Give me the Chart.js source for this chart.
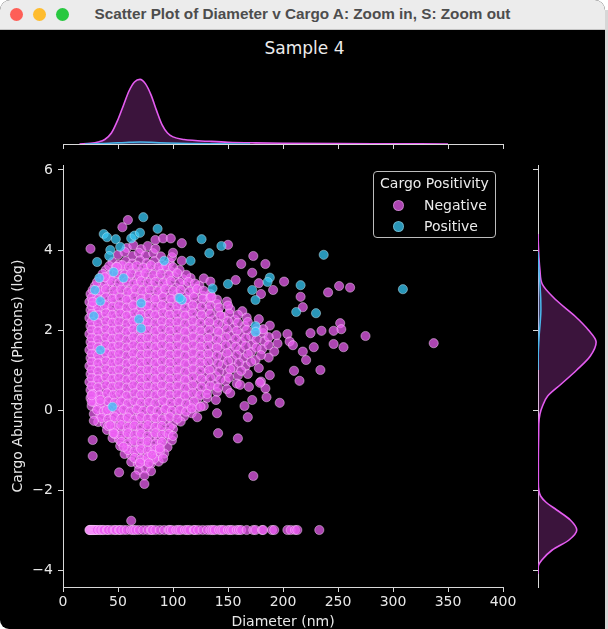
<!DOCTYPE html>
<html>
<head>
<meta charset="utf-8">
<title>Scatter Plot of Diameter v Cargo</title>
<script src="https://cdn.jsdelivr.net/npm/chart.js@4.4.1/dist/chart.umd.min.js"></script>
<style>
html, body { margin: 0; padding: 0; background: #fff; }
body { width: 608px; height: 629px; position: relative; overflow: hidden; font-family: "DejaVu Sans", sans-serif; }
#win { position: absolute; left: 0; top: 0; width: 605px; height: 629px; background: #000; border-radius: 10px 10px 0 9px; overflow: hidden; }
#bar { position: absolute; left: 0; top: 0; width: 605px; height: 29px; background: #ececec; border-bottom: 1px solid #c4c4c4; }
.dot { position: absolute; top: 7.5px; width: 13px; height: 13px; border-radius: 50%; }
#wtitle { position: absolute; left: 0; top: 5px; width: 605px; text-align: center; font: bold 15.3px "Liberation Sans", Arial, sans-serif; color: #4d4d4d; }
#edge { position: absolute; left: 605px; top: 10px; width: 3px; height: 619px; background: #d7d7d7; }
canvas { position: absolute; }
#title { position: absolute; left: 0; top: 38px; width: 609px; text-align: center; font-size: 17px; color: #ececec; }
#legend { position: absolute; left: 373px; top: 171px; width: 121px; height: 65px; border: 1px solid #bdbdbd; border-radius: 4px; background: rgba(0,0,0,0.8); color: #ececec; font-size: 14px; }
#legend .lt { position: absolute; left: 0; top: 3px; width: 100%; text-align: center; line-height: 17px; }
#legend .li { position: absolute; left: 50px; line-height: 20px; }
#legend .mk { position: absolute; left: 19px; width: 9px; height: 9px; border-radius: 50%; border: 1px solid rgba(255,255,255,0.3); }
</style>
</head>
<body>
<div id="win">
  <div id="bar">
    <span class="dot" style="left:9.5px;background:#fe5f57"></span>
    <span class="dot" style="left:32.5px;background:#febc2e"></span>
    <span class="dot" style="left:55.5px;background:#28c840"></span>
    <div id="wtitle">Scatter Plot of Diameter v Cargo A: Zoom in, S: Zoom out</div>
  </div>
  <div id="title">Sample 4</div>
  <canvas id="topChart" width="530" height="120" style="left:0;top:30px;width:530px;height:120px"></canvas>
  <canvas id="mainChart" width="530" height="479" style="left:0;top:150px;width:530px;height:479px"></canvas>
  <canvas id="rightChart" width="92" height="479" style="left:530px;top:150px;width:92px;height:479px"></canvas>
  <div id="legend">
    <div class="lt">Cargo Positivity</div>
    <span class="mk" style="top:28px;background:#ad44b2"></span>
    <div class="li" style="top:23px">Negative</div>
    <span class="mk" style="top:49px;background:#2996b8"></span>
    <div class="li" style="top:44px">Positive</div>
  </div>
</div>
<div id="edge"></div>
<script>
// tick labels
var xTicks = [0, 50, 100, 150, 200, 250, 300, 350, 400];
var yTicks = [-4, -2, 0, 2, 4, 6];

// scatter: [diameter (nm), cargo abundance (log)]
var negativePoints = [
  [58,4.05],[64,4.12],[71,4.02],[77,4.1],
  [50,3.88],[56,3.95],[63,3.85],[69,3.93],[75,3.86],[82,3.92],[89,3.84],
  [45,3.7],[51,3.64],[57,3.72],[63,3.66],[70,3.74],[76,3.67],[83,3.72],[90,3.64],[97,3.69],
  [39,3.5],[45,3.45],[51,3.53],[57,3.47],[64,3.52],[70,3.45],[77,3.54],[84,3.48],[91,3.52],[98,3.46],[106,3.5],
  [34,3.3],[41,3.26],[47,3.33],[54,3.27],[60,3.32],[67,3.26],[73,3.34],[80,3.28],[87,3.31],[94,3.25],[101,3.33],[109,3.27],[116,3.3],
  [29,3.1],[35,3.05],[42,3.12],[48,3.06],[55,3.11],[61,3.04],[68,3.13],[74,3.07],[81,3.1],[88,3.05],[95,3.12],[102,3.06],[110,3.1],[118,3.04],[124,3.11],
  [25,2.9],[31,2.85],[37,2.92],[44,2.86],[50,2.91],[57,2.85],[63,2.93],[70,2.87],[76,2.9],[83,2.84],[90,2.92],[97,2.86],[104,2.9],[111,2.85],[119,2.92],[127,2.86],[134,2.9],
  [24,2.7],[29,2.64],[35,2.72],[41,2.66],[47,2.71],[54,2.65],[60,2.73],[66,2.67],[73,2.7],[79,2.64],[86,2.72],[93,2.66],[100,2.71],[107,2.65],[114,2.72],[122,2.66],[131,2.7],[140,2.65],[149,2.71],
  [25,2.5],[31,2.45],[37,2.52],[43,2.46],[50,2.51],[56,2.44],[62,2.53],[69,2.47],[75,2.5],[82,2.45],[88,2.52],[95,2.46],[102,2.5],[109,2.44],[116,2.52],[124,2.46],[132,2.5],[141,2.45],[152,2.52],[163,2.47],
  [24,2.3],[30,2.26],[36,2.33],[42,2.27],[48,2.31],[55,2.25],[61,2.33],[67,2.27],[74,2.3],[80,2.24],[87,2.32],[94,2.26],[100,2.3],[107,2.25],[114,2.33],[121,2.27],[129,2.3],[137,2.25],[146,2.32],[156,2.26],[167,2.31],[178,2.27],
  [25,2.1],[31,2.05],[37,2.12],[43,2.06],[49,2.11],[56,2.04],[62,2.13],[68,2.07],[75,2.1],[81,2.05],[88,2.12],[95,2.06],[101,2.1],[108,2.04],[115,2.12],[122,2.06],[130,2.1],[138,2.05],[146,2.12],[155,2.06],[165,2.1],[176,2.05],[188,2.11],
  [24,1.9],[30,1.86],[36,1.93],[42,1.87],[48,1.91],[54,1.85],[61,1.93],[67,1.87],[73,1.9],[80,1.84],[86,1.92],[93,1.86],[99,1.9],[106,1.85],[113,1.93],[120,1.87],[127,1.9],[135,1.84],[143,1.92],[152,1.86],[161,1.9],[171,1.85],[182,1.92],[194,1.87],[204,1.9],
  [25,1.7],[31,1.65],[37,1.72],[43,1.66],[49,1.71],[55,1.64],[62,1.73],[68,1.67],[74,1.7],[81,1.65],[87,1.72],[94,1.66],[100,1.7],[107,1.64],[114,1.72],[121,1.66],[128,1.7],[136,1.65],[144,1.72],[153,1.66],[162,1.7],[172,1.64],[183,1.72],[195,1.66],[206,1.71],
  [24,1.5],[30,1.46],[36,1.53],[42,1.47],[48,1.51],[54,1.45],[61,1.53],[67,1.47],[73,1.5],[80,1.44],[86,1.52],[93,1.46],[99,1.5],[106,1.45],[113,1.53],[120,1.47],[127,1.5],[135,1.44],[143,1.52],[152,1.46],[161,1.5],[171,1.45],[181,1.52],[192,1.46],
  [25,1.3],[31,1.25],[37,1.32],[43,1.26],[49,1.31],[55,1.24],[62,1.33],[68,1.27],[74,1.3],[81,1.25],[87,1.32],[94,1.26],[100,1.3],[107,1.24],[114,1.32],[121,1.26],[128,1.3],[136,1.25],[145,1.32],[154,1.26],[164,1.3],[175,1.25],[187,1.31],
  [24,1.1],[30,1.06],[36,1.13],[42,1.07],[48,1.11],[54,1.05],[61,1.13],[67,1.07],[73,1.1],[80,1.04],[86,1.12],[93,1.06],[99,1.1],[106,1.05],[113,1.13],[120,1.07],[128,1.1],[136,1.04],[145,1.12],[155,1.06],[166,1.1],[178,1.05],
  [25,0.9],[31,0.85],[37,0.92],[43,0.86],[49,0.91],[55,0.84],[62,0.93],[68,0.87],[74,0.9],[81,0.85],[87,0.92],[94,0.86],[100,0.9],[107,0.84],[114,0.92],[122,0.86],[130,0.9],[139,0.85],[149,0.92],[159,0.86],[168,0.9],
  [24,0.7],[30,0.66],[36,0.73],[42,0.67],[48,0.71],[54,0.65],[61,0.73],[67,0.67],[73,0.7],[80,0.64],[86,0.72],[93,0.66],[99,0.7],[106,0.65],[113,0.73],[121,0.67],[129,0.7],[138,0.64],[148,0.72],[158,0.66],
  [25,0.5],[31,0.45],[37,0.52],[43,0.46],[49,0.51],[55,0.44],[62,0.53],[68,0.47],[74,0.5],[81,0.45],[87,0.52],[94,0.46],[100,0.5],[107,0.44],[114,0.52],[122,0.46],[131,0.5],[140,0.45],[149,0.52],
  [25,0.3],[31,0.26],[37,0.33],[43,0.27],[49,0.31],[55,0.25],[61,0.33],[68,0.27],[74,0.3],[80,0.24],[87,0.32],[93,0.26],[100,0.3],[107,0.25],[114,0.33],[122,0.27],[131,0.3],[139,0.25],
  [26,0.1],[32,0.05],[38,0.12],[44,0.06],[50,0.11],[56,0.04],[62,0.13],[68,0.07],[75,0.1],[81,0.05],[88,0.12],[94,0.06],[101,0.1],[108,0.04],[115,0.12],[122,0.06],[128,0.1],
  [28,-0.1],[34,-0.15],[40,-0.08],[46,-0.14],[52,-0.09],[58,-0.16],[64,-0.07],[70,-0.13],[77,-0.1],[83,-0.15],[90,-0.08],[96,-0.14],[103,-0.1],[110,-0.16],[117,-0.08],
  [32,-0.3],[38,-0.34],[44,-0.27],[50,-0.33],[56,-0.28],[62,-0.35],[68,-0.27],[74,-0.33],[80,-0.3],[86,-0.35],[93,-0.28],[100,-0.34],[107,-0.29],
  [40,-0.5],[46,-0.55],[52,-0.48],[58,-0.54],[64,-0.49],[70,-0.56],[76,-0.47],[82,-0.53],[88,-0.5],[94,-0.55],[100,-0.48],
  [45,-0.7],[51,-0.74],[57,-0.67],[63,-0.73],[69,-0.68],[75,-0.75],[81,-0.67],[87,-0.73],[93,-0.7],[99,-0.76],
  [52,-0.9],[58,-0.95],[64,-0.88],[70,-0.94],[76,-0.89],[82,-0.96],[88,-0.87],[95,-0.93],
  [56,-1.1],[62,-1.14],[68,-1.07],[74,-1.13],[80,-1.08],[86,-1.15],[92,-1.09],
  [62,-1.3],[68,-1.35],[74,-1.28],[80,-1.34],[87,-1.29],
  [69,-1.5],[75,-1.46],[80,-1.53],
  // the dense core, second layer
  [42,3.6],[48,3.57],[54,3.62],[60,3.58],[67,3.61],[73,3.56],[80,3.62],[87,3.58],[94,3.6],[100,3.57],
  [36,3.4],[43,3.37],[49,3.42],[56,3.38],[62,3.41],[69,3.36],[75,3.42],[82,3.38],[89,3.4],[96,3.37],[104,3.42],[112,3.38],
  [31,3.2],[38,3.17],[44,3.22],[51,3.18],[58,3.21],[64,3.16],[71,3.22],[77,3.18],[84,3.2],[91,3.17],[98,3.22],[106,3.18],[114,3.2],[120,3.16],
  [27,3.0],[33,2.97],[39,3.02],[46,2.98],[53,3.01],[59,2.96],[66,3.02],[72,2.98],[79,3.0],[86,2.97],[93,3.02],[100,2.98],[107,3.0],[115,2.96],[122,3.02],[128,2.98],
  [26,2.8],[32,2.77],[39,2.82],[45,2.78],[52,2.81],[58,2.76],[65,2.82],[71,2.78],[78,2.8],[84,2.77],[91,2.82],[98,2.78],[105,2.8],[112,2.76],[119,2.82],[127,2.78],[134,2.8],[140,2.76],
  [26,2.6],[32,2.57],[38,2.62],[45,2.58],[51,2.61],[58,2.56],[64,2.62],[71,2.58],[77,2.6],[84,2.57],[90,2.62],[97,2.58],[104,2.6],[111,2.56],[118,2.62],[126,2.58],[134,2.6],[142,2.56],[150,2.61],
  [26,2.4],[32,2.37],[39,2.42],[45,2.38],[52,2.41],[58,2.36],[65,2.42],[71,2.38],[78,2.4],[84,2.37],[91,2.42],[97,2.38],[104,2.4],[111,2.36],[118,2.42],[126,2.38],[134,2.4],[143,2.36],[151,2.41],[159,2.38],
  [26,2.2],[32,2.17],[39,2.22],[45,2.18],[51,2.21],[58,2.16],[64,2.22],[71,2.18],[77,2.2],[84,2.17],[90,2.22],[97,2.18],[104,2.2],[111,2.16],[118,2.22],[125,2.18],[133,2.2],[141,2.16],[150,2.22],[159,2.18],[168,2.2],
  [26,2.0],[32,1.97],[39,2.02],[45,1.98],[51,2.01],[58,1.96],[64,2.02],[71,1.98],[77,2.0],[84,1.97],[90,2.02],[97,1.98],[104,2.0],[111,1.96],[118,2.02],[125,1.98],[133,2.0],[141,1.96],[149,2.02],[158,1.98],[167,2.0],[176,1.97],[182,2.02],
  [26,1.8],[32,1.77],[39,1.82],[45,1.78],[51,1.81],[58,1.76],[64,1.82],[71,1.78],[77,1.8],[84,1.77],[90,1.82],[97,1.78],[104,1.8],[111,1.76],[118,1.82],[125,1.78],[132,1.8],[140,1.76],[148,1.82],[157,1.78],[166,1.8],[176,1.76],[187,1.82],
  [26,1.6],[32,1.57],[39,1.62],[45,1.58],[51,1.61],[58,1.56],[64,1.62],[71,1.58],[77,1.6],[84,1.57],[90,1.62],[97,1.58],[104,1.6],[111,1.56],[118,1.62],[125,1.58],[132,1.6],[140,1.56],[148,1.62],[157,1.58],[166,1.6],[176,1.56],[187,1.62],
  [26,1.4],[32,1.37],[39,1.42],[45,1.38],[51,1.41],[58,1.36],[64,1.42],[71,1.38],[77,1.4],[84,1.37],[90,1.42],[97,1.38],[104,1.4],[111,1.36],[118,1.42],[125,1.38],[132,1.4],[140,1.36],[149,1.42],[158,1.38],[168,1.4],[180,1.37],
  [26,1.2],[32,1.17],[39,1.22],[45,1.18],[51,1.21],[58,1.16],[64,1.22],[71,1.18],[77,1.2],[84,1.17],[90,1.22],[97,1.18],[104,1.2],[111,1.16],[118,1.22],[125,1.18],[132,1.2],[141,1.16],[150,1.22],[160,1.18],[171,1.2],
  [26,1.0],[32,0.97],[39,1.02],[45,0.98],[51,1.01],[58,0.96],[64,1.02],[71,0.98],[77,1.0],[84,0.97],[90,1.02],[97,0.98],[104,1.0],[111,0.96],[118,1.02],[125,0.98],[133,1.0],[142,0.96],[152,1.02],[162,0.98],
  [26,0.8],[32,0.77],[39,0.82],[45,0.78],[51,0.81],[58,0.76],[64,0.82],[71,0.78],[77,0.8],[84,0.77],[90,0.82],[97,0.78],[104,0.8],[111,0.76],[118,0.82],[126,0.78],[134,0.8],[143,0.76],[151,0.81],
  [26,0.6],[32,0.57],[39,0.62],[45,0.58],[51,0.61],[58,0.56],[64,0.62],[71,0.58],[77,0.6],[84,0.57],[90,0.62],[97,0.58],[104,0.6],[111,0.56],[118,0.62],[126,0.58],[134,0.6],[141,0.56],
  [27,0.4],[33,0.37],[40,0.42],[46,0.38],[52,0.41],[58,0.36],[65,0.42],[71,0.38],[77,0.4],[84,0.37],[90,0.42],[97,0.38],[104,0.4],[111,0.36],[118,0.42],[125,0.38],[131,0.4],
  [28,0.2],[34,0.17],[41,0.22],[47,0.18],[53,0.21],[59,0.16],[65,0.22],[71,0.18],[78,0.2],[84,0.17],[91,0.22],[98,0.18],[105,0.2],[112,0.16],[119,0.21],
  [31,0.0],[37,-0.03],[43,0.02],[49,-0.02],[55,0.01],[61,-0.04],[67,0.02],[73,-0.02],[80,0.0],[86,-0.03],[93,0.02],[99,-0.02],[106,0.0],[112,-0.04],
  [35,-0.2],[41,-0.23],[47,-0.18],[53,-0.22],[59,-0.19],[65,-0.24],[71,-0.18],[77,-0.22],[84,-0.2],[90,-0.23],[97,-0.18],[104,-0.22],
  [41,-0.4],[47,-0.43],[53,-0.38],[59,-0.42],[65,-0.39],[71,-0.44],[77,-0.38],[84,-0.42],[90,-0.4],[97,-0.43],
  [47,-0.6],[53,-0.63],[59,-0.58],[65,-0.62],[71,-0.59],[77,-0.64],[84,-0.58],[90,-0.62],[96,-0.6],
  [53,-0.8],[59,-0.83],[65,-0.78],[71,-0.82],[77,-0.79],[84,-0.84],[90,-0.8],
  [59,-1.0],[65,-1.03],[71,-0.98],[77,-1.02],[84,-0.99],[88,-1.04],
  [65,-1.2],[71,-1.23],[77,-1.18],[83,-1.22],
  // scattered ones round the cloud
  [25,4.03],[54,4.57],[59,4.75],[84,4.25],[91,4.29],[98,4.29],[108,4.17],[84,4.03],[150,4.13],
  [108,3.73],[99,3.82],[100,3.93],[173,3.85],[162,3.65],[184,3.65],[172,3.43],[157,3.25],[178,3.17],
  [191,3.0],[180,2.9],[38,3.32],[49,3.58],[135,2.83],[128,3.29],[134,3.21],[201,3.21],[27,2.7],
  [251,3.1],[261,3.06],[241,2.94],[216,2.83],[218,2.57],[252,2.17],[253,2.02],[246,1.98],[235,1.98],
  [225,1.92],[275,1.85],[337,1.67],[246,1.65],[255,1.57],[228,1.57],[218,1.46],[221,1.25],[209,1.62],
  [210,0.98],[234,1.0],[215,0.73],[188,0.87],[180,0.71],[184,0.54],[185,0.32],[172,0.25],[165,0.1],[197,0.18],
  [152,0.42],[161,0.63],[169,0.58],[179,0.68],[140,-0.08],[122,-0.18],[117,0.04],[125,0.08],[168,-0.18],
  [141,-0.58],[159,-0.71],[100,-0.65],[88,-0.96],[81,-1.12],[91,-1.21],[70,-1.32],[78,-1.33],[55,-0.92],
  [46,-0.58],[43,-0.38],[40,0],[26,0.21],[26,0.37],[34,0.25],[28,-0.27],[27,-0.75],[27,-1.15],
  [51,-1.56],[66,-1.64],[74,-1.64],[74,-1.85],[173,-1.65],[62,-2.77]
];

// negative vesicles sitting on the floor value (cargo = -3)
var floorCargo = -3;
var floorDiameter = [24,24.5,25,26,27,28,29,30,31,33,34,36,37,40,41,44,47,48,51,52,55,58,62,64,66,69,73,77,80,81,84,88,92,96,97,99,
  103,105,107,111,113,115,119,120,123,127,131,134,136,138,142,144,146,150,152,154,158,160,162,167,173,175,181,182,190,192,204,207,211,213,233];

var positivePoints = [
  [73,4.82],[86,4.53],[37,4.4],[40,4.32],[48,4.27],[52,4.08],[43,4.0],[42,3.85],[62,4.29],[65,4.36],[70,4.43],
  [126,4.27],[144,4.1],[133,3.92],[116,3.73],[92,3.73],[31,3.7],[46,3.45],[55,3.3],[33,3.3],[29,3.0],
  [150,3.15],[188,3.31],[186,3.2],[172,3.0],[136,3.04],[108,2.75],[106,2.8],[175,2.75],[71,2.67],[34,2.72],
  [69,2.27],[71,2.04],[175,2.1],[175,1.95],[237,3.88],[216,3.12],[309,3.02],[212,2.45],[230,2.42],[34,1.5],
  [45,0.08],[28,2.35]
];

// marginal density of diameter (top)
var topDiameter = [15,25,32,38,44,50,55,60,65,70,75,80,85,90,95,100,110,120,135,150,175,200,250,300,350];
var topNegative = [0,0.01,0.03,0.07,0.17,0.38,0.6,0.82,0.96,1.0,0.93,0.76,0.52,0.3,0.17,0.11,0.07,0.055,0.04,0.028,0.018,0.012,0.006,0.003,0];
var topPosDiameter = [20,35,50,60,70,80,95,115,140,170];
var topPositive = [0,0.006,0.018,0.026,0.03,0.026,0.016,0.008,0.003,0];

// marginal density of cargo (right)
var rightCargo = [-4.1,-3.9,-3.75,-3.5,-3.25,-3.0,-2.75,-2.5,-2.3,-2.15,-2.0,-1.8,-1.4,-1.0,-0.6,-0.35,-0.1,0.1,0.35,0.65,1.0,1.35,1.7,2.0,2.35,2.75,3.15,3.5,3.8,4.1,4.4];
var rightNegative = [0,0.005,0.06,0.22,0.48,0.6,0.5,0.29,0.12,0.04,0.012,0.005,0.005,0.006,0.01,0.012,0.03,0.07,0.15,0.36,0.6,0.81,0.9,0.78,0.57,0.28,0.065,0.03,0.015,0.006,0];
var rightPosCargo = [1.0,1.5,1.9,2.2,2.5,2.8,3.1,3.4,3.7,3.95];
var rightPositive = [0,0.006,0.02,0.035,0.045,0.042,0.032,0.02,0.008,0];

Chart.defaults.font.family = "'DejaVu Sans', sans-serif";
Chart.defaults.font.size = 14;
Chart.defaults.color = '#e8e8e8';
Chart.defaults.animation = false;

var axisColor = '#d9d9d9';
var negFill = 'rgba(238,95,245,0.72)';
var posFill = 'rgba(55,200,245,0.75)';

function fixTicks(list) {
    return function (scale) {
        scale.ticks = list.map(function (v) { return { value: v }; });
    };
}

function minusLabel(v) {
    return v < 0 ? '\u2212' + Math.abs(v) : String(v);
}

function toXY(list) {
    return list.map(function (p) { return { x: p[0], y: p[1] }; });
}

var negData = toXY(negativePoints);
for (let i = 0; i < floorDiameter.length; i++) {
    negData.push({ x: floorDiameter[i], y: floorCargo });
}

new Chart(document.getElementById('mainChart'), {
    type: 'scatter',
    data: {
        datasets: [{
            label: 'Positive',
            data: toXY(positivePoints),
            backgroundColor: posFill,
            borderColor: 'rgba(225,245,255,0.45)',
            borderWidth: 0.9,
            pointRadius: 4.6,
            pointHoverRadius: 4.6
        }, {
            label: 'Negative',
            data: negData,
            backgroundColor: negFill,
            borderColor: 'rgba(255,225,255,0.5)',
            borderWidth: 0.9,
            pointRadius: 4.6,
            pointHoverRadius: 4.6
        }]
    },
    options: {
        responsive: false,
        layout: { padding: { left: 0, top: 15, right: 27, bottom: 0 } },
        plugins: { legend: { display: false }, tooltip: { enabled: false } },
        scales: {
            x: {
                type: 'linear', min: 0, max: 400,
                afterBuildTicks: fixTicks(xTicks),
                afterFit: function (s) { s.height = 42; },
                grid: { drawOnChartArea: false, tickLength: 5, color: axisColor },
                border: { color: axisColor },
                ticks: { padding: 2, maxRotation: 0, autoSkip: false, callback: minusLabel },
                title: { display: true, text: 'Diameter (nm)', padding: { top: 0, bottom: -2 } }
            },
            y: {
                type: 'linear', min: -4.425, max: 6.125,
                afterBuildTicks: fixTicks(yTicks),
                afterFit: function (s) { s.width = 63; },
                grid: { drawOnChartArea: false, tickLength: 5, color: axisColor },
                border: { color: axisColor },
                ticks: { padding: 5, autoSkip: false, callback: minusLabel },
                title: { display: true, text: 'Cargo Abundance (Photons) (log)', padding: { top: 10, bottom: 0 } }
            }
        }
    }
});

new Chart(document.getElementById('topChart'), {
    type: 'line',
    data: {
        datasets: [{
            label: 'Positive',
            data: topPosDiameter.map(function (d, i) { return { x: d, y: topPositive[i] }; }),
            borderColor: '#4ab8ec',
            backgroundColor: 'rgba(55,200,245,0.25)',
            fill: 'origin', borderWidth: 1.5, pointRadius: 0,
            cubicInterpolationMode: 'monotone'
        }, {
            label: 'Negative',
            data: topDiameter.map(function (d, i) { return { x: d, y: topNegative[i] }; }),
            borderColor: '#e45cf0',
            backgroundColor: 'rgba(235,80,240,0.25)',
            fill: 'origin', borderWidth: 1.6, pointRadius: 0,
            cubicInterpolationMode: 'monotone'
        }]
    },
    options: {
        responsive: false,
        layout: { padding: { left: 63, right: 27, top: 30, bottom: 0 } },
        plugins: { legend: { display: false }, tooltip: { enabled: false } },
        scales: {
            x: {
                type: 'linear', min: 0, max: 400,
                afterBuildTicks: fixTicks(xTicks),
                afterFit: function (s) { s.height = 6; },
                grid: { drawOnChartArea: false, tickLength: 5, color: axisColor },
                border: { color: axisColor },
                ticks: { display: false }
            },
            y: { type: 'linear', display: false, min: 0, max: 1.3 }
        }
    }
});

new Chart(document.getElementById('rightChart'), {
    type: 'line',
    data: {
        datasets: [{
            label: 'Positive',
            data: rightPosCargo.map(function (c, i) { return { x: rightPositive[i], y: c }; }),
            borderColor: '#4ab8ec',
            backgroundColor: 'rgba(55,200,245,0.25)',
            fill: 'origin', borderWidth: 1.5, pointRadius: 0,
            cubicInterpolationMode: 'monotone'
        }, {
            label: 'Negative',
            data: rightCargo.map(function (c, i) { return { x: rightNegative[i], y: c }; }),
            borderColor: '#e45cf0',
            backgroundColor: 'rgba(235,80,240,0.25)',
            fill: 'origin', borderWidth: 1.6, pointRadius: 0,
            cubicInterpolationMode: 'monotone'
        }]
    },
    options: {
        indexAxis: 'y',
        responsive: false,
        layout: { padding: { left: 0, right: 0, top: 15, bottom: 42 } },
        plugins: { legend: { display: false }, tooltip: { enabled: false } },
        scales: {
            y: {
                type: 'linear', position: 'left', min: -4.425, max: 6.125,
                afterBuildTicks: fixTicks(yTicks),
                afterFit: function (s) { s.width = 8; },
                grid: { drawOnChartArea: false, tickLength: 5, color: axisColor },
                border: { color: axisColor },
                ticks: { display: false }
            },
            x: { type: 'linear', display: false, min: 0, max: 1.3 }
        }
    }
});
</script>
</body>
</html>
